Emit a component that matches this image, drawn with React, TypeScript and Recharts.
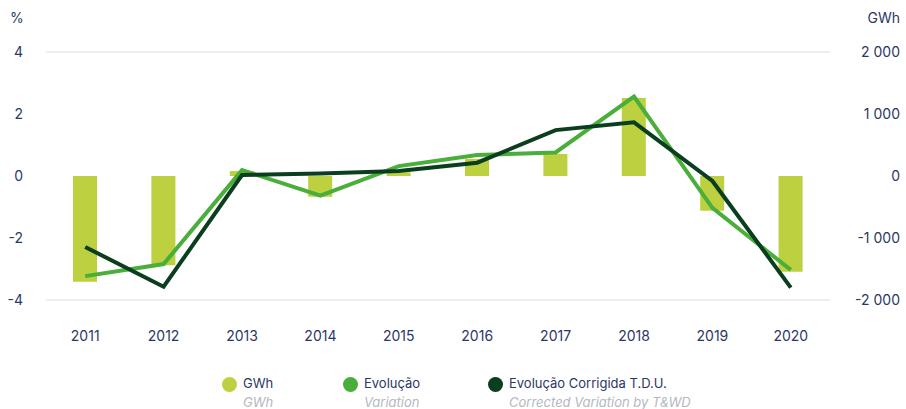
import {
    ComposedChart, Bar, Line, XAxis, YAxis, CartesianGrid,
} from 'recharts';

// ── Data ──────────────────────────────────────────────────────────────────────

const years = ['2011', '2012', '2013', '2014', '2015', '2016', '2017', '2018', '2019', '2020'];
const gwh = [-1705, -1440, 80, -335, 60, 275, 355, 1258, -560, -1545];
const evolucao = [-3.23, -2.84, 0.19, -0.63, 0.32, 0.68, 0.76, 2.56, -1.03, -3.03];
const corrigida = [-2.29, -3.57, 0.03, 0.08, 0.16, 0.43, 1.48, 1.73, -0.16, -3.6];

const leftTicks = [-4, -2, 0, 2, 4];
const rightTicks = [-2000, -1000, 0, 1000, 2000];

const data = years.map((year, i) => ({
    year,
    gwh: gwh[i],
    evolucao: evolucao[i],
    corrigida: corrigida[i],
}));

// ── Styles ────────────────────────────────────────────────────────────────────

const NAVY = '#2c3764';
const FONT = 'Inter, "Liberation Sans", sans-serif';
const C_BAR = '#bdd03f';
const C_EVO = '#4aae3a';
const C_COR = '#0b3e1e';

const fmtGwh = (v: number) => {
    const s = Math.abs(v).toString().replace(/\B(?=(\d{3})+(?!\d))/g, ' ');
    return (v < 0 ? '-' : '') + s;
};

function RightTick({ x, y, payload }: any) {
    return (
        <text x={x + 62} y={y} dy={5} textAnchor="end" fill={NAVY} fontSize={14} fontFamily={FONT}>
            {fmtGwh(payload.value)}
        </text>
    );
}

const legendItems = [
    { color: C_BAR, label: 'GWh', sub: 'GWh', left: 222 },
    { color: C_EVO, label: 'Evolução', sub: 'Variation', left: 343 },
    { color: C_COR, label: 'Evolução Corrigida T.D.U.', sub: 'Corrected Variation by T&WD', left: 488 },
];

// ── Component ─────────────────────────────────────────────────────────────────

export default function App() {
    return (
        <div style={{ position: 'absolute', left: 0, top: 0, width: 906, height: 409, background: '#fff', fontFamily: FONT }}>
            <div style={{ position: 'absolute', left: 10, top: 9, fontSize: 14, color: NAVY }}>%</div>
            <div style={{ position: 'absolute', right: 6, top: 9, fontSize: 14, color: NAVY }}>GWh</div>

            <ComposedChart
                width={906}
                height={350}
                data={data}
                margin={{ top: 52, right: 0, left: 0, bottom: 0 }}
            >
                <CartesianGrid vertical={false} stroke="#e8e8e8" strokeWidth={1.5} />
                <XAxis
                    dataKey="year"
                    axisLine={false}
                    tickLine={false}
                    height={50}
                    tickMargin={25}
                    tick={{ fill: NAVY, fontSize: 14, fontFamily: FONT }}
                />
                <YAxis
                    yAxisId="left"
                    domain={[-4, 4]}
                    ticks={leftTicks}
                    width={46}
                    axisLine={false}
                    tickLine={false}
                    tickMargin={17}
                    tick={{ fill: NAVY, fontSize: 14, fontFamily: FONT }}
                />
                <YAxis
                    yAxisId="right"
                    orientation="right"
                    domain={[-2000, 2000]}
                    ticks={rightTicks}
                    width={76}
                    axisLine={false}
                    tickLine={false}
                    tick={<RightTick />}
                />
                <Bar yAxisId="right" dataKey="gwh" fill={C_BAR} barSize={24} isAnimationActive={false} />
                <Line
                    yAxisId="left"
                    dataKey="evolucao"
                    stroke={C_EVO}
                    strokeWidth={4}
                    dot={false}
                    activeDot={false}
                    type="linear"
                    isAnimationActive={false}
                />
                <Line
                    yAxisId="left"
                    dataKey="corrigida"
                    stroke={C_COR}
                    strokeWidth={4}
                    dot={false}
                    activeDot={false}
                    type="linear"
                    isAnimationActive={false}
                />
            </ComposedChart>

            {legendItems.map((it) => (
                <div key={it.label} style={{ position: 'absolute', left: it.left, top: 374 }}>
                    <span style={{
                        position: 'absolute', left: 0, top: 3, width: 15, height: 15,
                        borderRadius: '50%', background: it.color,
                    }} />
                    <div style={{ marginLeft: 21, fontSize: 13, color: NAVY, whiteSpace: 'nowrap', lineHeight: '19px' }}>
                        {it.label}
                    </div>
                    <div style={{ marginLeft: 21, fontSize: 13, color: '#b4b8bf', fontStyle: 'italic', whiteSpace: 'nowrap', lineHeight: '19px' }}>
                        {it.sub}
                    </div>
                </div>
            ))}
        </div>
    );
}
